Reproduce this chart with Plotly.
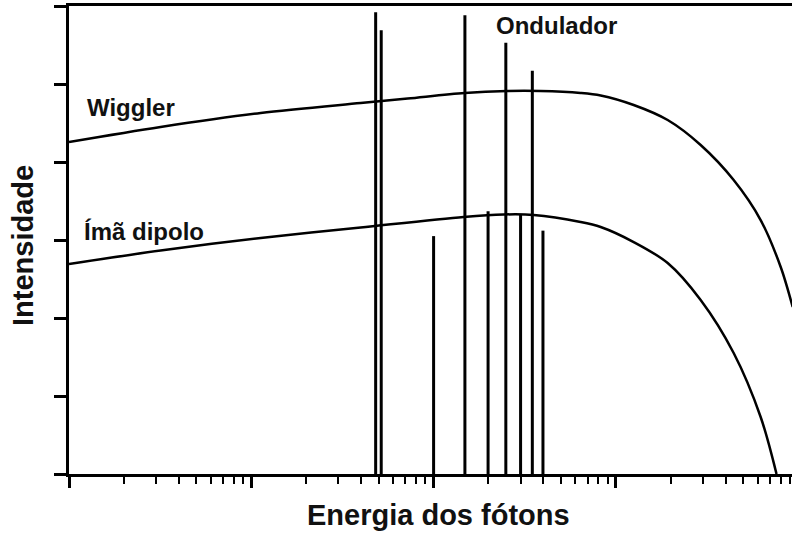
import plotly.graph_objects as go

# Photon energy (arbitrary units, log scale) and intensity (arbitrary units)
wiggler_energy = [1.0, 3.18, 11.26, 39.8, 72.1, 148, 254, 385, 640, 825,
                  1252, 1923, 2917, 4426, 6223, 8017, 9329]
wiggler_intensity = [4.256, 4.449, 4.628, 4.756, 4.814, 4.885, 4.910, 4.910,
                     4.885, 4.853, 4.731, 4.538, 4.218, 3.769, 3.256, 2.654,
                     2.141]

dipole_energy = [1.0, 3.18, 11.26, 39.8, 146, 242, 354, 640, 825, 1252, 1923,
                 2917, 4426, 6223, 7606]
dipole_intensity = [2.692, 2.865, 3.026, 3.160, 3.295, 3.327, 3.321, 3.231,
                    3.167, 2.974, 2.705, 2.231, 1.551, 0.731, 0.0]

# Undulator harmonics: sharp lines at discrete energies
undulator_energy = [48.1, 51.6, 148.5, 249, 348, 100, 199, 300, 398]
undulator_peak = [5.92, 5.69, 5.88, 5.53, 5.17, 3.05, 3.37, 3.32, 3.12]

y_ticks = [0, 1, 2, 3, 4, 5, 6]
x_major = [1, 10, 100, 1000, 10000]
x_minor = [m * d for d in (1, 10, 100, 1000) for m in range(2, 10)]

W, H = 792, 534
ML, MR, MT, MB = 69, 0, 6, 60
PW, PH = W - ML - MR, H - MT - MB
FONT = "Arial, 'Liberation Sans', sans-serif"
INK = "#111111"


def px_x(p):
    return (p - ML) / PW


def px_y(p):
    return 1 - (p - MT) / PH


line_x, line_y = [], []
for e, h in zip(undulator_energy, undulator_peak):
    line_x += [e, e, None]
    line_y += [0, h, None]

fig = go.Figure()
fig.add_trace(go.Scatter(x=wiggler_energy, y=wiggler_intensity, mode="lines",
                         line=dict(color="black", width=2.5, shape="spline",
                                   smoothing=0.9),
                         hoverinfo="skip"))
fig.add_trace(go.Scatter(x=dipole_energy, y=dipole_intensity, mode="lines",
                         line=dict(color="black", width=2.5, shape="spline",
                                   smoothing=0.9),
                         hoverinfo="skip"))
fig.add_trace(go.Scatter(x=line_x, y=line_y, mode="lines",
                         line=dict(color="black", width=3),
                         hoverinfo="skip"))

fig.update_layout(
    width=W, height=H,
    margin=dict(l=ML, r=MR, t=MT, b=MB, pad=0),
    paper_bgcolor="white", plot_bgcolor="white",
    showlegend=False,
    font=dict(family=FONT, color=INK),
    xaxis=dict(type="log", range=[0, PW / 182.3],
               showgrid=False, zeroline=False,
               showline=True, linecolor="black", linewidth=3, mirror=True,
               tickmode="array", tickvals=x_major, showticklabels=False,
               ticks="outside", ticklen=11, tickwidth=2.5, tickcolor="black",
               minor=dict(tickmode="array", tickvals=x_minor,
                          ticks="outside", ticklen=7, tickwidth=2,
                          tickcolor="black", showgrid=False)),
    yaxis=dict(range=[0, 6], showgrid=False, zeroline=False,
               showline=True, linecolor="black", linewidth=3,
               tickmode="array", tickvals=y_ticks, showticklabels=False,
               ticks="outside", ticklen=12, tickwidth=2.5, tickcolor="black"),
)

labels = [
    ("<b>Wiggler</b>", 85, 107, 24, "left", 0),
    ("<b>Ímã dipolo</b>", 82, 231, 24, "left", 0),
    ("<b>Ondulador</b>", 494, 26, 24, "left", 0),
    ("<b>Energia dos fótons</b>", 439, 515, 29, "center", 0),
    ("<b>Intensidade</b>", 23, 246, 29, "center", -90),
]
for text, x, y, size, anchor, ang in labels:
    fig.add_annotation(text=text, xref="paper", yref="paper",
                       x=px_x(x), y=px_y(y), xanchor=anchor, yanchor="middle",
                       showarrow=False, textangle=ang,
                       font=dict(family=FONT, size=size, color=INK))

fig.write_html("out.html")
